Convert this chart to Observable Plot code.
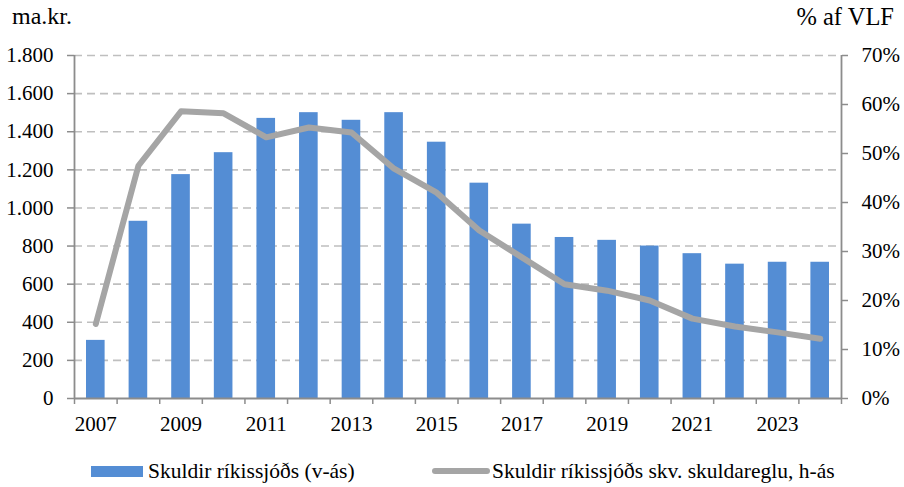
<!DOCTYPE html>
<html>
<head>
<meta charset="utf-8">
<script src="https://cdn.jsdelivr.net/npm/d3@7"></script>
<script src="https://cdn.jsdelivr.net/npm/@observablehq/plot@0.6"></script>
<style>
  html, body { margin: 0; padding: 0; background: #fff; }
  #wrap { position: relative; width: 904px; height: 487px; font-family: "Liberation Serif", serif; color: #000; }
  .ttl { position: absolute; font-size: 24px; top: 3px; }
  #legend { position: absolute; left: 0; top: 456px; width: 904px; height: 30px; font-size: 21.5px; }
  .li { position: absolute; top: 0; display: flex; align-items: center; height: 30px; white-space: nowrap; }
  .sw-bar { width: 52px; height: 11px; background: #548dd4; margin-right: 5px; }
  .sw-line { width: 58px; height: 6px; border-radius: 3px; background: #a5a5a5; margin-right: 2px; }
</style>
</head>
<body>
<div id="wrap">
  <div id="chart"></div>
  <div class="ttl" style="left:12px;">ma.kr.</div>
  <div class="ttl" style="right:10px;font-size:24.5px;">% af VLF</div>
  <div id="legend">
    <div class="li" style="left:91px;"><div class="sw-bar"></div><span>Skuldir ríkissjóðs (v-ás)</span></div>
    <div class="li" style="left:432px;"><div class="sw-line"></div><span>Skuldir ríkissjóðs skv. skuldareglu, h-ás</span></div>
  </div>
</div>
<script>
const years = [2007,2008,2009,2010,2011,2012,2013,2014,2015,2016,2017,2018,2019,2020,2021,2022,2023,2024];
const debt = [305,930,1175,1290,1470,1500,1460,1500,1345,1130,915,845,830,800,760,705,715,715];
const debtRulePct = [15.2,47.5,58.6,58.2,53.3,55.3,54.3,46.9,42.0,34.3,28.8,23.3,22.0,20.0,16.3,14.7,13.5,12.2];
const leftTicks = [0,200,400,600,800,1000,1200,1400,1600,1800];
const rightTicks = [0,10,20,30,40,50,60,70];
const labelYears = [2007,2009,2011,2013,2015,2017,2019,2021,2023];

const leftMax = 1800, rightMax = 70;
const k = leftMax / rightMax;
const data = years.map((y, i) => ({year: y, debt: debt[i], pct: debtRulePct[i]}));
const boundaries = years.map(y => y - 0.5).concat([years[years.length - 1] + 0.5]);
const xMin = boundaries[0], xMax = boundaries[boundaries.length - 1];

const fmtThousands = d => d3.format(",")(d).replace(/,/g, ".");

const axisColor = "#8c8c8c";
const chart = Plot.plot({
  width: 904,
  height: 440,
  marginLeft: 74,
  marginRight: 63,
  marginTop: 55,
  marginBottom: 42,
  style: { fontFamily: "Liberation Serif", fontSize: "21px", color: "#000", background: "#fff" },
  x: { type: "linear", domain: [xMin, xMax] },
  y: { domain: [0, leftMax] },
  marks: [
    Plot.gridY(leftTicks.slice(1), { stroke: "#bfbfbf", strokeOpacity: 1, strokeWidth: 1.6, strokeDasharray: "8,5" }),
    Plot.rectY(data, { x1: d => d.year - 0.5, x2: d => d.year + 0.5, y: "debt", fill: "#548dd4", insetLeft: 12, insetRight: 12 }),
    Plot.line(data, { x: "year", y: d => d.pct * k, stroke: "#a5a5a5", strokeWidth: 6, strokeLinecap: "round", strokeLinejoin: "round" }),
    Plot.axisY(leftTicks, { anchor: "left", tickFormat: fmtThousands, tickSize: 7, tickPadding: 14, stroke: axisColor, strokeWidth: 1.5, fontSize: 21, label: null }),
    Plot.axisY(rightTicks.map(v => v * k), { anchor: "right", tickFormat: d => Math.round(d / k) + "%", tickSize: 6, tickPadding: 14, stroke: axisColor, strokeWidth: 1.5, fontSize: 21, label: null }),
    Plot.axisX(labelYears, { anchor: "bottom", tickSize: 0, tickPadding: 18, tickFormat: d => String(d), fontSize: 21, label: null }),
    Plot.axisX(boundaries, { anchor: "bottom", tickSize: 6, tickFormat: () => "", stroke: axisColor, strokeWidth: 1.5, label: null }),
    Plot.ruleX([xMin, xMax], { stroke: axisColor, strokeWidth: 1.8 }),
    Plot.ruleY([0], { stroke: axisColor, strokeWidth: 1.8 })
  ]
});
document.getElementById("chart").appendChild(chart);
</script>
</body>
</html>
